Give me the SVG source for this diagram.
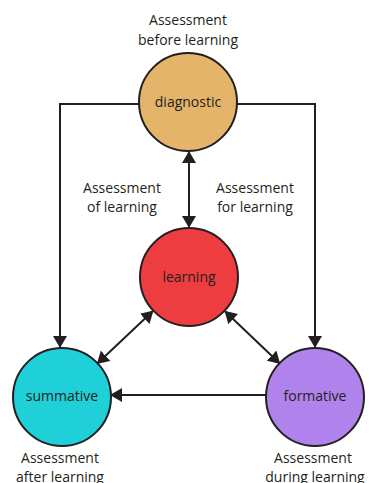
<svg xmlns="http://www.w3.org/2000/svg" width="369" height="483" viewBox="0 0 369 483">
<defs>
<style>
.node{stroke:#231F20;stroke-width:2}
.lbl{font-family:"Open Sans","Noto Sans",sans-serif;font-size:14px;fill:#231F20;text-anchor:middle}
.edge{fill:none;stroke:#231F20;stroke-width:2}
</style>
<marker id="ah" viewBox="0 0 12 14" markerWidth="12" markerHeight="14" markerUnits="userSpaceOnUse" refX="11" refY="7" orient="auto-start-reverse">
<path d="M0,0 L12,7 L0,14 z" fill="#231F20"/>
</marker>
</defs>
<rect width="369" height="483" fill="#fff"/>
<g id="connectors">
<path class="edge" d="M139,104 H60 V347" marker-end="url(#ah)"/>
<path class="edge" d="M237,104 H315 V347" marker-end="url(#ah)"/>
<path class="edge" d="M189,152 V227" marker-start="url(#ah)" marker-end="url(#ah)"/>
<path class="edge" d="M152.7,311.3 L97.6,363.3" marker-start="url(#ah)" marker-end="url(#ah)"/>
<path class="edge" d="M225.2,311.5 L279.5,363.2" marker-start="url(#ah)" marker-end="url(#ah)"/>
<path class="edge" d="M266,395 H111" marker-end="url(#ah)"/>
</g>
<g id="diagnostic">
<circle class="node" cx="188" cy="102" r="49" fill="#E3B46A"/>
<text class="lbl" x="188" y="107">diagnostic</text>
<text class="lbl" x="188" y="25">Assessment</text>
<text class="lbl" x="188" y="45">before learning</text>
</g>
<g id="learning">
<circle class="node" cx="189" cy="277" r="49" fill="#EE3D40"/>
<text class="lbl" x="189" y="282">learning</text>
</g>
<g id="summative">
<circle class="node" cx="62" cy="397" r="49" fill="#20D0D8"/>
<text class="lbl" x="62" y="401">summative</text>
<text class="lbl" x="60" y="463">Assessment</text>
<text class="lbl" x="60" y="482">after learning</text>
</g>
<g id="formative">
<circle class="node" cx="315" cy="397" r="49" fill="#B083EC"/>
<text class="lbl" x="315" y="401">formative</text>
<text class="lbl" x="313" y="463">Assessment</text>
<text class="lbl" x="315" y="482">during learning</text>
</g>
<g id="edge-labels">
<text class="lbl" x="122" y="193">Assessment</text>
<text class="lbl" x="122" y="212">of learning</text>
<text class="lbl" x="255" y="193">Assessment</text>
<text class="lbl" x="255" y="212">for learning</text>
</g>
</svg>
